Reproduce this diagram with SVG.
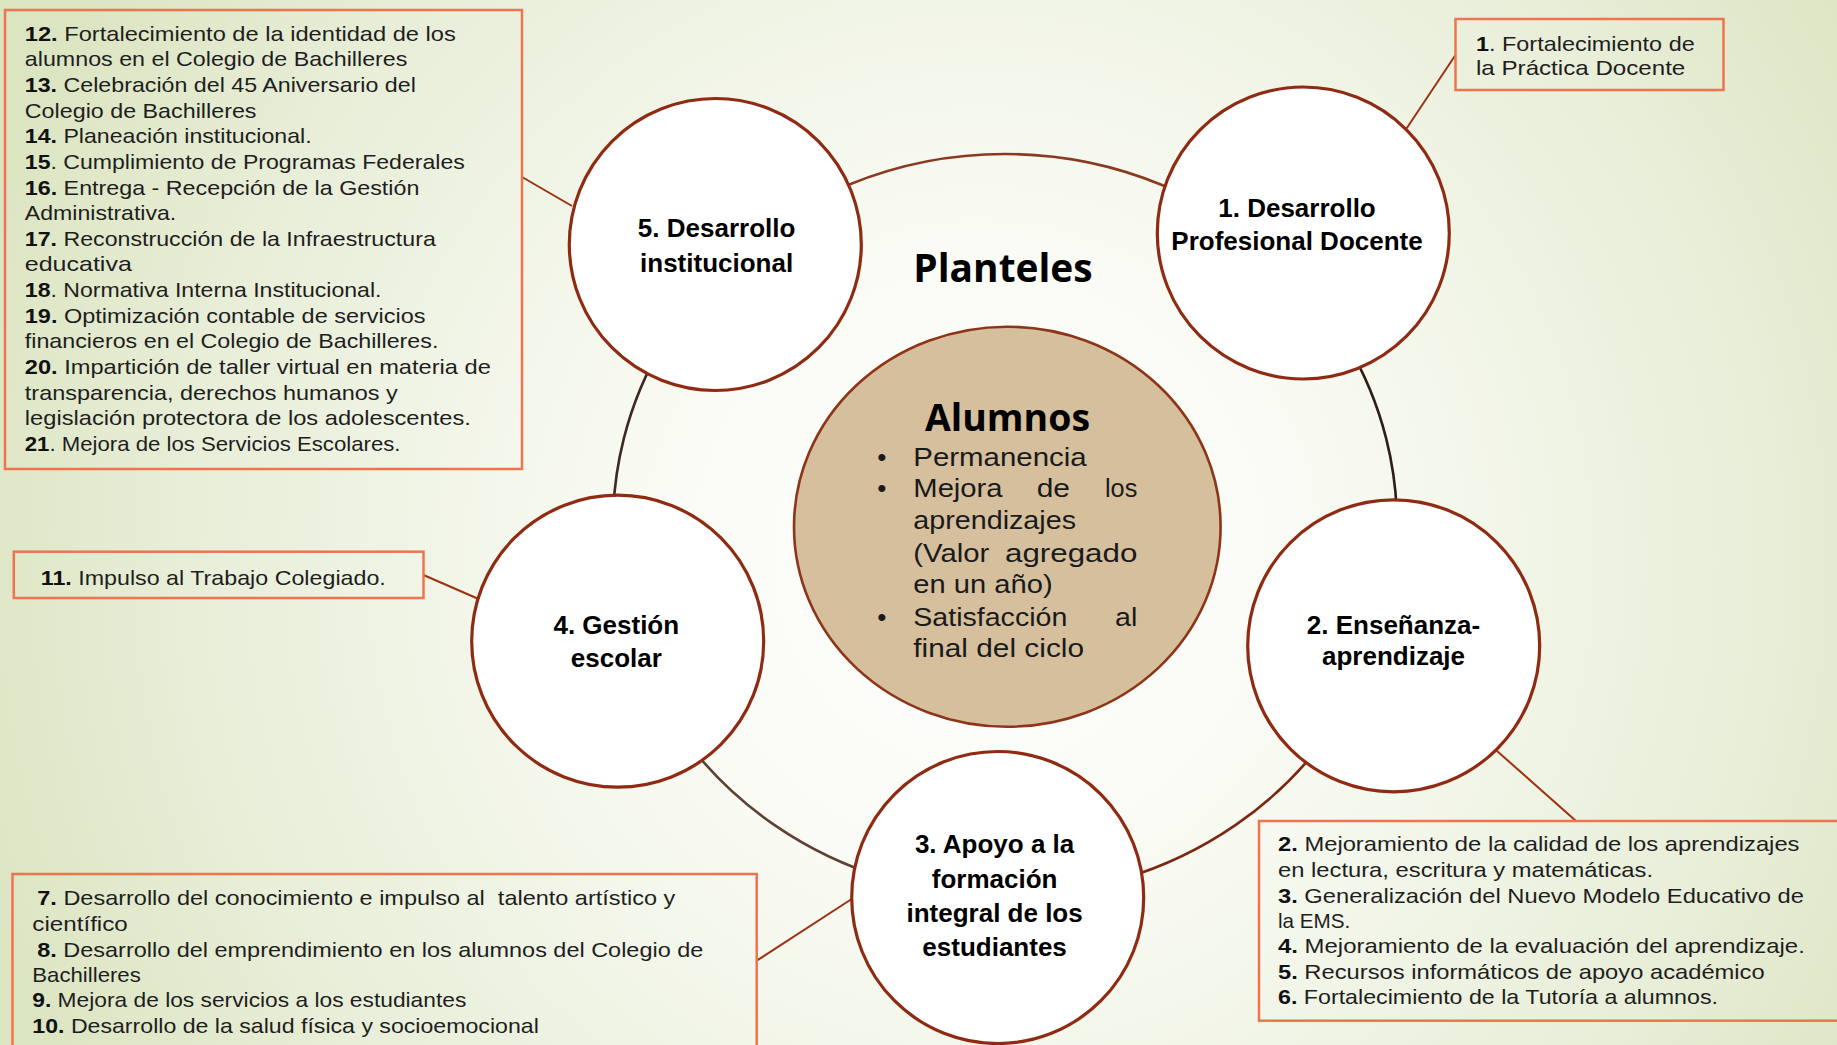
<svg xmlns="http://www.w3.org/2000/svg" width="1837" height="1045" viewBox="0 0 1837 1045">
<defs>
<radialGradient id="bg" gradientUnits="userSpaceOnUse" cx="980" cy="560" r="1050">
<stop offset="0" stop-color="#ffffff"/>
<stop offset="0.35" stop-color="#f8faf2"/>
<stop offset="0.75" stop-color="#e8eed8"/>
<stop offset="1" stop-color="#dce5c2"/>
</radialGradient>
<style>
.box{fill:none;stroke:#f0734f;stroke-width:2.5}
.node{fill:#ffffff;stroke:#8e2b12;stroke-width:3.2}
.conn{fill:none;stroke:#9b3212;stroke-width:2}
.ring{fill:none;stroke-width:2.6}
.t{font-family:"Liberation Sans",Arial,sans-serif;font-size:21px;fill:#1e1e1e}
.b{font-weight:bold;fill:#111}
.lbl{font-family:"Liberation Sans",Arial,sans-serif;font-size:26px;font-weight:bold;fill:#000;text-anchor:middle}
.ttl{font-family:"Open Sans","Liberation Sans",sans-serif;font-weight:bold;fill:#000;text-anchor:middle}
.al{font-family:"Liberation Sans",Arial,sans-serif;font-size:26px;fill:#1a1a1a}
</style>
</defs>
<rect x="0" y="0" width="1837" height="1045" fill="url(#bg)"/>

<g id="ring">
<path class="ring" stroke="#8b3a22" d="M727.8,262.7 A392,371 0 0 1 1282.2,262.7"/>
<path class="ring" stroke="#2e1e1a" d="M1282.2,262.7 A392,371 0 0 1 1377.8,639.6"/>
<path class="ring" stroke="#7a2812" d="M1377.8,639.6 A392,371 0 0 1 1005,896"/>
<path class="ring" stroke="#5e4034" d="M1005,896 A392,371 0 0 1 632.2,639.6"/>
<path class="ring" stroke="#3e2a22" d="M632.2,639.6 A392,371 0 0 1 727.8,262.7"/>
</g>

<g id="connectors">
<line class="conn" x1="1455.5" y1="55" x2="1406.7" y2="128.3"/>
<line class="conn" x1="522" y1="177" x2="572" y2="206"/>
<line class="conn" x1="423.5" y1="575" x2="478.6" y2="599"/>
<line class="conn" x1="756.7" y1="960.7" x2="851.7" y2="899"/>
<line class="conn" x1="1576" y1="821" x2="1496.7" y2="750.7"/>
</g>

<g id="box-institucional">
<rect class="box" x="5" y="10" width="517" height="459"/>
<text class="t" x="24.8" y="40.7" textLength="431" lengthAdjust="spacingAndGlyphs"><tspan class="b">12.</tspan> Fortalecimiento de la identidad de los</text>
<text class="t" x="24.8" y="66.3" textLength="382.6" lengthAdjust="spacingAndGlyphs">alumnos en el Colegio de Bachilleres</text>
<text class="t" x="24.8" y="92" textLength="391" lengthAdjust="spacingAndGlyphs"><tspan class="b">13.</tspan> Celebración del 45 Aniversario del</text>
<text class="t" x="24.8" y="117.6" textLength="231.7" lengthAdjust="spacingAndGlyphs">Colegio de Bachilleres</text>
<text class="t" x="24.8" y="143.2" textLength="286.8" lengthAdjust="spacingAndGlyphs"><tspan class="b">14.</tspan> Planeación institucional.</text>
<text class="t" x="24.8" y="168.9" textLength="440" lengthAdjust="spacingAndGlyphs"><tspan class="b">15</tspan>. Cumplimiento de Programas Federales</text>
<text class="t" x="24.8" y="194.5" textLength="394.6" lengthAdjust="spacingAndGlyphs"><tspan class="b">16.</tspan> Entrega - Recepción de la Gestión</text>
<text class="t" x="24.8" y="220.1" textLength="151.5" lengthAdjust="spacingAndGlyphs">Administrativa.</text>
<text class="t" x="24.8" y="245.7" textLength="411" lengthAdjust="spacingAndGlyphs"><tspan class="b">17.</tspan> Reconstrucción de la Infraestructura</text>
<text class="t" x="24.8" y="271.4" textLength="107" lengthAdjust="spacingAndGlyphs">educativa</text>
<text class="t" x="24.8" y="297" textLength="356.7" lengthAdjust="spacingAndGlyphs"><tspan class="b">18</tspan>. Normativa Interna Institucional.</text>
<text class="t" x="24.8" y="322.6" textLength="400.8" lengthAdjust="spacingAndGlyphs"><tspan class="b">19.</tspan> Optimización contable de servicios</text>
<text class="t" x="24.8" y="348.3" textLength="413.6" lengthAdjust="spacingAndGlyphs">financieros en el Colegio de Bachilleres.</text>
<text class="t" x="24.8" y="373.9" textLength="466" lengthAdjust="spacingAndGlyphs"><tspan class="b">20.</tspan> Impartición de taller virtual en materia de</text>
<text class="t" x="24.8" y="399.5" textLength="373" lengthAdjust="spacingAndGlyphs">transparencia, derechos humanos y</text>
<text class="t" x="24.8" y="425.2" textLength="446" lengthAdjust="spacingAndGlyphs">legislación protectora de los adolescentes.</text>
<text class="t" x="24.8" y="450.8" textLength="375.7" lengthAdjust="spacingAndGlyphs"><tspan class="b">21</tspan>. Mejora de los Servicios Escolares.</text>
</g>

<g id="box-docente">
<rect class="box" x="1455.5" y="19" width="268" height="71"/>
<text class="t" x="1476" y="50.7" textLength="218.7" lengthAdjust="spacingAndGlyphs"><tspan class="b">1</tspan>. Fortalecimiento de</text>
<text class="t" x="1476" y="75" textLength="209.3" lengthAdjust="spacingAndGlyphs">la Práctica Docente</text>
</g>

<g id="box-gestion">
<rect class="box" x="13.8" y="551.7" width="409.7" height="46.3"/>
<text class="t" x="40.8" y="584.5" textLength="345" lengthAdjust="spacingAndGlyphs"><tspan class="b">11.</tspan> Impulso al Trabajo Colegiado.</text>
</g>

<g id="box-apoyo">
<rect class="box" x="12.5" y="874" width="744.2" height="200"/>
<text class="t" x="37.3" y="905.3" textLength="638" lengthAdjust="spacingAndGlyphs" xml:space="preserve"><tspan class="b">7.</tspan> Desarrollo del conocimiento e impulso al  talento artístico y</text>
<text class="t" x="32.3" y="930.7" textLength="95.5" lengthAdjust="spacingAndGlyphs">científico</text>
<text class="t" x="37.3" y="956.7" textLength="666" lengthAdjust="spacingAndGlyphs"><tspan class="b">8.</tspan> Desarrollo del emprendimiento en los alumnos del Colegio de</text>
<text class="t" x="32.3" y="981.7" textLength="108.5" lengthAdjust="spacingAndGlyphs">Bachilleres</text>
<text class="t" x="32.3" y="1007" textLength="434" lengthAdjust="spacingAndGlyphs"><tspan class="b">9.</tspan> Mejora de los servicios a los estudiantes</text>
<text class="t" x="32.3" y="1033" textLength="506.5" lengthAdjust="spacingAndGlyphs"><tspan class="b">10.</tspan> Desarrollo de la salud física y socioemocional</text>
</g>

<g id="box-ensenanza">
<rect class="box" x="1259" y="821" width="600" height="199.7"/>
<text class="t" x="1278" y="851" textLength="521.5" lengthAdjust="spacingAndGlyphs"><tspan class="b">2.</tspan> Mejoramiento de la calidad de los aprendizajes</text>
<text class="t" x="1278" y="876.7" textLength="375" lengthAdjust="spacingAndGlyphs">en lectura, escritura y matemáticas.</text>
<text class="t" x="1278" y="902.7" textLength="526" lengthAdjust="spacingAndGlyphs"><tspan class="b">3.</tspan> Generalización del Nuevo Modelo Educativo de</text>
<text class="t" x="1278" y="927.7" textLength="72.3" lengthAdjust="spacingAndGlyphs">la EMS.</text>
<text class="t" x="1278" y="953.3" textLength="526.8" lengthAdjust="spacingAndGlyphs"><tspan class="b">4.</tspan> Mejoramiento de la evaluación del aprendizaje.</text>
<text class="t" x="1278" y="979" textLength="486.7" lengthAdjust="spacingAndGlyphs"><tspan class="b">5.</tspan> Recursos informáticos de apoyo académico</text>
<text class="t" x="1278" y="1004.3" textLength="440" lengthAdjust="spacingAndGlyphs"><tspan class="b">6.</tspan> Fortalecimiento de la Tutoría a alumnos.</text>
</g>

<g id="node-5">
<circle class="node" cx="715.3" cy="244.5" r="146"/>
<text class="lbl" x="716.6" y="237.4">5. Desarrollo</text>
<text class="lbl" x="716.6" y="271.6">institucional</text>
</g>

<g id="node-1">
<circle class="node" cx="1303.3" cy="233" r="146"/>
<text class="lbl" x="1297" y="217.3">1. Desarrollo</text>
<text class="lbl" x="1297" y="250">Profesional Docente</text>
</g>

<g id="node-2">
<circle class="node" cx="1393.7" cy="645.8" r="146"/>
<text class="lbl" x="1393.5" y="634">2. Enseñanza-</text>
<text class="lbl" x="1393.5" y="665">aprendizaje</text>
</g>

<g id="node-3">
<circle class="node" cx="997.7" cy="897.5" r="146"/>
<text class="lbl" x="994.6" y="853.3">3. Apoyo a la</text>
<text class="lbl" x="994.6" y="888.3">formación</text>
<text class="lbl" x="994.6" y="921.7">integral de los</text>
<text class="lbl" x="994.6" y="956">estudiantes</text>
</g>

<g id="node-4">
<circle class="node" cx="617.7" cy="641.2" r="146"/>
<text class="lbl" x="616.3" y="634">4. Gestión</text>
<text class="lbl" x="616.3" y="667.3">escolar</text>
</g>

<g id="title">
<text class="ttl" x="1003" y="281.7" font-size="38.5" textLength="179.3" lengthAdjust="spacingAndGlyphs">Planteles</text>
</g>

<g id="node-alumnos">
<ellipse cx="1007.3" cy="526.7" rx="213.3" ry="200" fill="#d5bf9d" stroke="#8e3418" stroke-width="2.6"/>
<text class="ttl" x="1007.5" y="431" font-size="38" textLength="165" lengthAdjust="spacingAndGlyphs">Alumnos</text>
<text class="al" x="881.7" y="465.7" text-anchor="middle" font-size="22">•</text>
<text class="al" x="913.3" y="465.7" textLength="173.3" lengthAdjust="spacingAndGlyphs">Permanencia</text>
<text class="al" x="881.7" y="497.3" text-anchor="middle" font-size="22">•</text>
<text class="al" x="913.3" y="497.3" textLength="89.3" lengthAdjust="spacingAndGlyphs">Mejora</text>
<text class="al" x="1036.7" y="497.3" textLength="33.3" lengthAdjust="spacingAndGlyphs">de</text>
<text class="al" x="1105" y="497.3" textLength="32.3" lengthAdjust="spacingAndGlyphs">los</text>
<text class="al" x="913.3" y="529.3" textLength="162.7" lengthAdjust="spacingAndGlyphs">aprendizajes</text>
<text class="al" x="913.3" y="561.7" textLength="76" lengthAdjust="spacingAndGlyphs">(Valor</text>
<text class="al" x="1005" y="561.7" textLength="132.3" lengthAdjust="spacingAndGlyphs">agregado</text>
<text class="al" x="913.3" y="593.3" textLength="139.3" lengthAdjust="spacingAndGlyphs">en un año)</text>
<text class="al" x="881.7" y="625.7" text-anchor="middle" font-size="22">•</text>
<text class="al" x="913.3" y="625.7" textLength="154" lengthAdjust="spacingAndGlyphs">Satisfacción</text>
<text class="al" x="1115" y="625.7" textLength="22.3" lengthAdjust="spacingAndGlyphs">al</text>
<text class="al" x="913.3" y="657.3" textLength="170.7" lengthAdjust="spacingAndGlyphs">final del ciclo</text>
</g>
</svg>
